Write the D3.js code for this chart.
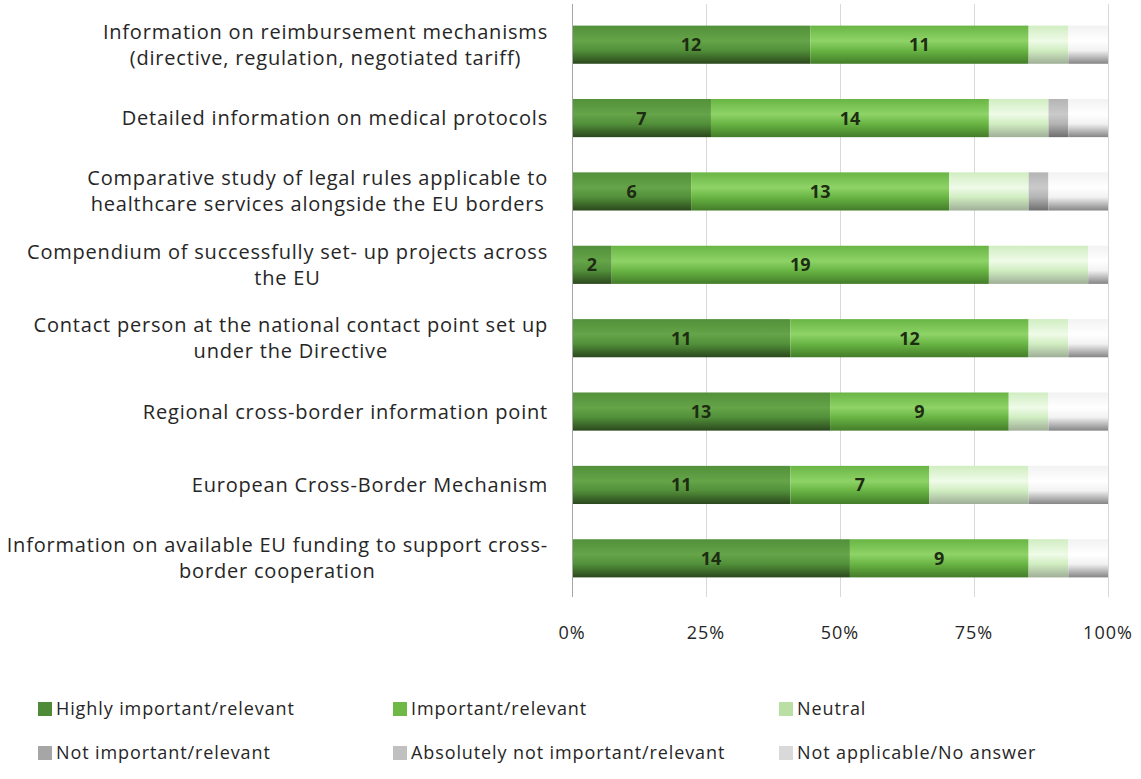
<!DOCTYPE html>
<html>
<head>
<meta charset="utf-8">
<script src="https://cdn.jsdelivr.net/npm/d3@7"></script>
<style>
  html, body { margin: 0; padding: 0; background: #fff; }
  svg { display: block; font-family: "Open Sans", Lato, sans-serif; }
</style>
</head>
<body>
<svg id="chart" width="1141" height="779"></svg>
<script>
// Survey items (top to bottom); "\n" marks a line break in the axis label
const categories = [
  "Information on reimbursement mechanisms\n(directive, regulation, negotiated tariff)",
  "Detailed information on medical protocols",
  "Comparative study of legal rules applicable to\nhealthcare services alongside the EU borders",
  "Compendium of successfully set- up projects across\nthe EU",
  "Contact person at the national contact point set up\nunder the Directive",
  "Regional cross-border information point",
  "European Cross-Border Mechanism",
  "Information on available EU funding to support cross-\nborder cooperation"
];

const seriesNames = [
  "Highly important/relevant",
  "Important/relevant",
  "Neutral",
  "Not important/relevant",
  "Absolutely not important/relevant",
  "Not applicable/No answer"
];

// Number of respondents per answer
const highly       = [12, 7, 6, 2, 11, 13, 11, 14];
const important    = [11, 14, 13, 19, 12, 9, 7, 9];
const neutral      = [2, 3, 4, 5, 2, 2, 5, 2];
const notImportant = [0, 1, 1, 0, 0, 0, 0, 0];
const absNot       = [0, 0, 0, 0, 0, 0, 0, 0];
const noAnswer     = [2, 2, 3, 1, 2, 3, 4, 2];

const xTicks = [0, 0.25, 0.5, 0.75, 1];
const labelledSeries = [0, 1]; // only these segments carry value labels

// Colours: legend swatch + vertical shading for the bars
const palette = [
  { swatch: "#4e8a38", top: "#52903a", mid: "#66a449", bottom: "#2b481d" },
  { swatch: "#6db847", top: "#69b544", mid: "#8ed367", bottom: "#437c29" },
  { swatch: "#b9dfa5", top: "#d0edc1", mid: "#effbe8", bottom: "#9fae97" },
  { swatch: "#a6a6a6", top: "#b4b4b4", mid: "#cacaca", bottom: "#6e6e6e" },
  { swatch: "#c0c0c0", top: "#cfcfcf", mid: "#e0e0e0", bottom: "#8c8c8c" },
  { swatch: "#d9d9d9", top: "#f2f2f2", mid: "#ffffff", bottom: "#858585" }
];

const rows = categories.map((c, i) => ({
  category: c,
  s0: highly[i], s1: important[i], s2: neutral[i],
  s3: notImportant[i], s4: absNot[i], s5: noAnswer[i]
}));
const keys = ["s0", "s1", "s2", "s3", "s4", "s5"];

const svg = d3.select("#chart");
const margin = { left: 572, right: 33, top: 8, bottom: 184 };
const W = 1141, H = 779;
const textColor = "#262626";

const x = d3.scaleLinear().domain([0, 1]).range([margin.left, W - margin.right]);
const y = d3.scaleBand().domain(categories).range([margin.top, H - margin.bottom]).paddingInner(0.48).paddingOuter(0.24);

// Gradients
const defs = svg.append("defs");
palette.forEach((p, i) => {
  const g = defs.append("linearGradient").attr("id", "grad" + i)
    .attr("x1", 0).attr("y1", 0).attr("x2", 0).attr("y2", 1);
  g.append("stop").attr("offset", "0%").attr("stop-color", p.top);
  g.append("stop").attr("offset", "40%").attr("stop-color", p.mid);
  g.append("stop").attr("offset", "65%").attr("stop-color", p.top);
  g.append("stop").attr("offset", "100%").attr("stop-color", p.bottom);
});

// Vertical gridlines
const gridTop = 4, gridBottom = 597;
svg.append("g").selectAll("line").data(xTicks).join("line")
  .attr("x1", d => x(d)).attr("x2", d => x(d))
  .attr("y1", gridTop).attr("y2", gridBottom)
  .attr("stroke", "#d9d9d9")
  .attr("stroke-width", 1)
  .attr("shape-rendering", "crispEdges");

// Stacked bars (shares of total)
const stack = d3.stack().keys(keys).offset(d3.stackOffsetExpand);
const stacked = stack(rows);

const layers = svg.append("g").selectAll("g").data(stacked).join("g")
  .attr("fill", (d, i) => `url(#grad${i})`);

layers.selectAll("rect").data(d => d).join("rect")
  .attr("x", d => x(d[0]))
  .attr("y", d => y(d.data.category))
  .attr("width", d => Math.max(0, x(d[1]) - x(d[0])))
  .attr("height", y.bandwidth());

// Value labels
const labelG = svg.append("g");
stacked.forEach((layer, i) => {
  if (!labelledSeries.includes(i)) return;
  labelG.selectAll(null).data(layer.filter(d => d.data[layer.key] > 0)).join("text")
    .attr("x", d => (x(d[0]) + x(d[1])) / 2)
    .attr("y", d => y(d.data.category) + y.bandwidth() / 2)
    .attr("dy", "0.36em")
    .attr("text-anchor", "middle")
    .attr("font-size", 18)
    .attr("font-weight", "bold")
    .attr("fill", "#1d2c12")
    .text(d => d.data[layer.key]);
});

// Y axis line
svg.append("line")
  .attr("x1", x(0)).attr("x2", x(0)).attr("y1", gridTop).attr("y2", gridBottom)
  .attr("stroke", "#a6a6a6").attr("shape-rendering", "crispEdges");

// Category labels: wrapped lines centred on each other, block right-aligned
const labelRight = 548, lineH = 26, catFont = 20;
const catG = svg.append("g").attr("font-size", catFont).attr("fill", textColor)
  .style("letter-spacing", "0.8px");
categories.forEach(c => {
  const lines = c.split("\n");
  const g = catG.append("g");
  const texts = lines.map((ln, k) => g.append("text")
    .attr("y", y(c) + y.bandwidth() / 2 + (k - (lines.length - 1) / 2) * lineH)
    .attr("dy", "0.35em")
    .attr("text-anchor", "middle")
    .text(ln));
  const maxW = d3.max(texts, t => t.node().getComputedTextLength());
  texts.forEach(t => t.attr("x", labelRight - maxW / 2));
});

// X axis tick labels
svg.append("g").style("letter-spacing", "1px").selectAll("text").data(xTicks).join("text")
  .attr("x", d => x(d)).attr("y", 633).attr("dy", "0.35em")
  .attr("text-anchor", "middle").attr("font-size", 18).attr("fill", textColor)
  .text(d3.format(".0%"));

// Legend (3 columns x 2 rows)
const legCols = [38, 393, 779], legRows = [709, 753];
const leg = svg.append("g").style("letter-spacing", "0.9px")
  .selectAll("g").data(seriesNames).join("g")
  .attr("transform", (d, i) => `translate(${legCols[i % 3]},${legRows[Math.floor(i / 3)]})`);
leg.append("rect").attr("x", 0).attr("y", -7).attr("width", 14).attr("height", 14)
  .attr("fill", (d, i) => palette[i].swatch);
leg.append("text").attr("x", 18).attr("dy", "0.35em")
  .attr("font-size", 18).attr("fill", textColor).text(d => d);
</script>
</body>
</html>
